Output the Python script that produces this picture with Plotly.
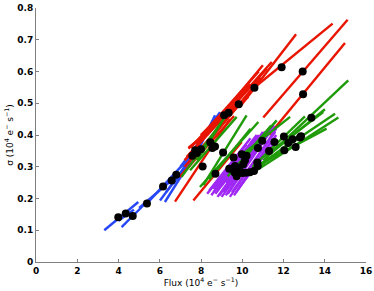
import plotly.graph_objects as go

# Fitted sigma-vs-flux segments, per group: start flux, start sigma, end flux, end sigma
blue_x0 = [3.31, 4.15, 5.37, 6.01, 6.25, 6.66, 7.14, 6.98, 7.63, 4.00, 5.00, 6.30, 7.40, 7.00]
blue_y0 = [0.100, 0.110, 0.184, 0.194, 0.189, 0.247, 0.299, 0.278, 0.320, 0.130, 0.170, 0.220, 0.330, 0.300]
blue_x1 = [4.96, 5.20, 7.31, 6.98, 7.22, 7.95, 8.92, 8.60, 8.68, 4.75, 6.80, 7.60, 8.80, 8.40]
blue_y1 = [0.189, 0.178, 0.320, 0.278, 0.289, 0.362, 0.472, 0.446, 0.462, 0.165, 0.270, 0.330, 0.460, 0.420]

red_x0 = [12.61, 14.38, 15.11, 14.98, 11.43, 11.20, 10.90, 10.60, 9.81, 9.97, 9.40, 8.90, 10.30,
          10.80, 11.00, 10.40, 9.50, 10.90, 9.60]
red_y0 = [0.717, 0.751, 0.763, 0.690, 0.630, 0.610, 0.580, 0.550, 0.499, 0.378, 0.450, 0.440, 0.520,
          0.600, 0.620, 0.560, 0.490, 0.590, 0.460]
red_x1 = [9.90, 10.50, 11.02, 11.30, 7.31, 7.60, 6.98, 7.20, 7.39, 7.63, 6.74, 7.40, 8.00,
          7.50, 7.80, 8.00, 7.20, 8.30, 7.00]
red_y1 = [0.490, 0.545, 0.455, 0.400, 0.331, 0.350, 0.268, 0.300, 0.357, 0.194, 0.190, 0.360, 0.400,
          0.360, 0.370, 0.400, 0.320, 0.400, 0.270]

purple_x0 = [8.30, 8.50, 8.70, 8.90, 9.10, 9.30, 9.50, 9.70, 9.00, 8.60, 9.40, 9.80, 8.80, 9.20,
             8.40, 8.60, 8.80, 9.00, 9.20, 9.40, 9.60, 9.90]
purple_y0 = [0.215, 0.210, 0.215, 0.210, 0.220, 0.215, 0.220, 0.220, 0.240, 0.230, 0.240, 0.230, 0.225, 0.250,
             0.225, 0.220, 0.205, 0.205, 0.210, 0.205, 0.210, 0.240]
purple_x1 = [10.20, 10.50, 10.80, 11.00, 11.30, 11.50, 11.60, 11.40, 10.60, 10.00, 10.90, 11.20, 10.30, 10.70,
             10.40, 10.70, 11.10, 11.40, 11.55, 11.65, 11.65, 11.50]
purple_y1 = [0.370, 0.380, 0.400, 0.410, 0.420, 0.425, 0.410, 0.380, 0.390, 0.350, 0.380, 0.360, 0.360, 0.360,
             0.390, 0.400, 0.410, 0.420, 0.430, 0.420, 0.400, 0.370]

green_x0 = [15.14, 14.50, 14.66, 14.09, 14.01, 13.93, 13.04, 12.32, 11.67, 10.78, 10.21, 9.73, 9.41, 10.40, 9.00, 12.80, 11.40]
green_y0 = [0.572, 0.467, 0.455, 0.420, 0.481, 0.472, 0.459, 0.457, 0.446, 0.441, 0.462, 0.457, 0.478, 0.420, 0.440, 0.400, 0.430]
green_x1 = [11.02, 10.54, 10.60, 10.78, 11.18, 11.00, 10.50, 10.05, 10.00, 7.95, 8.11, 7.47, 7.06, 8.40, 7.80, 10.80, 9.30]
green_y1 = [0.320, 0.294, 0.285, 0.305, 0.331, 0.330, 0.300, 0.341, 0.320, 0.236, 0.242, 0.289, 0.268, 0.260, 0.320, 0.300, 0.270]

# Measured points
dot_flux = [3.99, 4.35, 4.69, 5.38, 6.16, 6.58, 6.80, 7.58, 7.72, 7.80, 8.00, 8.08, 8.45, 8.55,
            8.68, 8.70, 9.07, 9.12, 9.34, 9.83, 10.59, 11.91, 12.93, 12.95, 13.35, 12.02, 12.23,
            12.44, 12.80, 12.85, 12.59, 12.04, 11.56, 11.30, 10.97, 10.76, 10.73, 10.75, 10.57,
            9.58, 9.98, 10.21, 10.13, 10.05, 9.37, 9.65, 9.79, 9.62, 9.73, 9.89, 10.18, 10.37, 10.00]
dot_sigma = [0.141, 0.153, 0.145, 0.184, 0.238, 0.257, 0.275, 0.335, 0.352, 0.343, 0.355, 0.301, 0.377, 0.359,
             0.364, 0.278, 0.345, 0.462, 0.470, 0.497, 0.549, 0.613, 0.600, 0.528, 0.454, 0.395, 0.375,
             0.387, 0.392, 0.396, 0.362, 0.352, 0.378, 0.350, 0.382, 0.359, 0.313, 0.302, 0.287,
             0.329, 0.339, 0.335, 0.320, 0.308, 0.294, 0.302, 0.297, 0.283, 0.270, 0.287, 0.281, 0.283, 0.280]

x_ticks = [0, 2, 4, 6, 8, 10, 12, 14, 16]
y_ticks = [0, 0.1, 0.2, 0.3, 0.4, 0.5, 0.6, 0.7, 0.8]
y_tick_text = ["0", "0.1", "0.2", "0.3", "0.4", "0.5", "0.6", "0.7", "0.8"]


def seg_xy(x0, y0, x1, y1):
    xs, ys = [], []
    for a, b, c, d in zip(x0, y0, x1, y1):
        xs += [a, c, None]
        ys += [b, d, None]
    return xs, ys


fig = go.Figure()
groups = [
    (blue_x0, blue_y0, blue_x1, blue_y1, "#2848f8"),
    (red_x0, red_y0, red_x1, red_y1, "#e81400"),
    (purple_x0, purple_y0, purple_x1, purple_y1, "#a028f4"),
    (green_x0, green_y0, green_x1, green_y1, "#1f9a08"),
]
for x0, y0, x1, y1, col in groups:
    xs, ys = seg_xy(x0, y0, x1, y1)
    fig.add_trace(go.Scatter(x=xs, y=ys, mode="lines",
                             line=dict(color=col, width=2.4), hoverinfo="skip"))

fig.add_trace(go.Scatter(x=dot_flux, y=dot_sigma, mode="markers",
                         marker=dict(color="black", size=8, line=dict(width=0))))

axis_common = dict(showline=True, linecolor="#7f7f7f", linewidth=1, ticks="inside",
                   ticklen=3, tickcolor="#7f7f7f", showgrid=False, zeroline=False,
                   tickfont=dict(family="DejaVu Sans", size=9, color="black", weight="bold"),
                   mirror=False, automargin=False)

fig.update_layout(
    width=374, height=291,
    margin=dict(l=36, r=8, t=8, b=29),
    paper_bgcolor="white", plot_bgcolor="white",
    showlegend=False,
    xaxis=dict(range=[0, 16], tickvals=x_ticks, **axis_common,
               title=dict(text="Flux (10<sup>4</sup> e<sup>−</sup> s<sup>−1</sup>)",
                          font=dict(family="DejaVu Sans", size=9, color="black"), standoff=2)),
    yaxis=dict(range=[0, 0.8], tickvals=y_ticks, ticktext=y_tick_text, **axis_common,
               title=dict(text="σ (10<sup>4</sup> e<sup>−</sup> s<sup>−1</sup>)",
                          font=dict(family="DejaVu Sans", size=9, color="black"), standoff=2)),
)

fig.write_html("out.html", config={"displayModeBar": False},
               post_script="document.body.style.margin='0px';")
